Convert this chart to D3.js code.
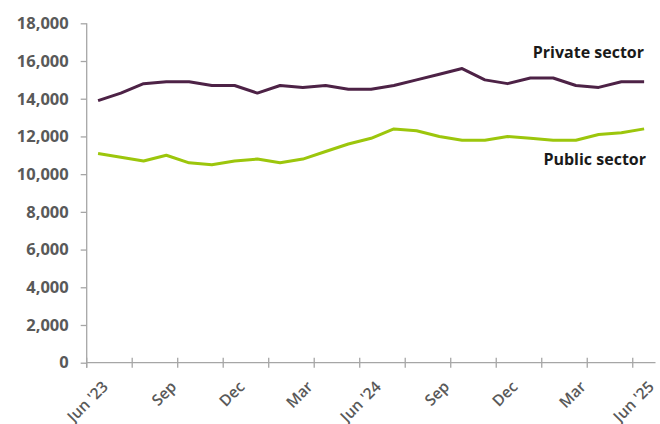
<!DOCTYPE html>
<html>
<head>
<meta charset="utf-8">
<script src="https://cdn.jsdelivr.net/npm/d3@7"></script>
<style>
  body { margin: 0; background: #fff; }
  svg text { font-family: "Open Sans", Lato, sans-serif; }
</style>
</head>
<body>
<svg id="chart" width="660" height="424"></svg>
<script>
// months from Jun '23 to Jun '25
const months = ["Jun '23", 'Jul', 'Aug', 'Sep', 'Oct', 'Nov', 'Dec', 'Jan', 'Feb', 'Mar', 'Apr', 'May',
  "Jun '24", 'Jul', 'Aug', 'Sep', 'Oct', 'Nov', 'Dec', 'Jan', 'Feb', 'Mar', 'Apr', 'May', "Jun '25"];
const labelMonths = ["Jun '23", 'Sep', 'Dec', 'Mar', "Jun '24", 'Sep', 'Dec', 'Mar', "Jun '25"];

const privateSector = [13900, 14300, 14800, 14900, 14900, 14700, 14700, 14300, 14700, 14600, 14700, 14500,
  14500, 14700, 15000, 15300, 15600, 15000, 14800, 15100, 15100, 14700, 14600, 14900, 14900];
const publicSector = [11100, 10900, 10700, 11000, 10600, 10500, 10700, 10800, 10600, 10800, 11200, 11600,
  11900, 12400, 12300, 12000, 11800, 11800, 12000, 11900, 11800, 11800, 12100, 12200, 12400];

const yTicks = [0, 2000, 4000, 6000, 8000, 10000, 12000, 14000, 16000, 18000];

const svg = d3.select('#chart');
const plotLeft = 86.7, plotRight = 655.5, plotTop = 23.3, plotBottom = 362.7;

// index based band scale so repeated month names stay distinct
const x = d3.scaleBand().domain(d3.range(months.length)).range([plotLeft, plotRight]);
const y = d3.scaleLinear().domain([0, 18000]).range([plotBottom, plotTop]);

const axisColor = '#a6a6a6';
const textColor = '#595959';

// y axis
const yAxis = svg.append('g')
  .attr('transform', `translate(${plotLeft},0)`)
  .call(d3.axisLeft(y).tickValues(yTicks).tickFormat(d3.format(',')).tickSize(6).tickPadding(12));
yAxis.select('.domain').attr('stroke', axisColor).attr('stroke-width', 1.3)
  .attr('d', `M0,${plotTop}V${plotBottom + 5}`);
yAxis.selectAll('.tick line').attr('stroke', axisColor).attr('stroke-width', 1.3);
yAxis.selectAll('.tick text')
  .attr('fill', textColor)
  .attr('font-size', '16.5px')
  .attr('font-weight', 700)
  .attr('font-family', '"Open Sans", sans-serif');

// x axis: tick marks every 2 months, crossing the axis line
const tickIdx = d3.range(0, months.length, 2);
const xAxis = svg.append('g');
xAxis.append('line')
  .attr('x1', plotLeft).attr('x2', plotRight)
  .attr('y1', plotBottom).attr('y2', plotBottom)
  .attr('stroke', axisColor).attr('stroke-width', 1.3);
xAxis.selectAll('line.tk')
  .data(tickIdx)
  .enter()
  .append('line')
  .attr('class', 'tk')
  .attr('x1', (d) => x(d)).attr('x2', (d) => x(d))
  .attr('y1', plotBottom - 5).attr('y2', plotBottom + 5)
  .attr('stroke', axisColor).attr('stroke-width', 1.3);

// labels every 3 months
const labelIdx = d3.range(0, months.length, 3);
xAxis.selectAll('text')
  .data(labelIdx)
  .enter()
  .append('text')
  .attr('transform', (d) => `translate(${x(d) + x.bandwidth() / 2 + 11},${plotBottom + 25}) rotate(-45)`)
  .attr('text-anchor', 'end')
  .attr('fill', textColor)
  .attr('font-size', '15.5px')
  .attr('font-weight', 600)
  .text((d, i) => labelMonths[i]);

// lines
const line = d3.line()
  .x((d, i) => x(i) + x.bandwidth() / 2)
  .y((d) => y(d));

svg.append('path')
  .datum(privateSector)
  .attr('fill', 'none')
  .attr('stroke', '#4d2246')
  .attr('stroke-width', 3)
  .attr('stroke-linejoin', 'round')
  .attr('d', line);

svg.append('path')
  .datum(publicSector)
  .attr('fill', 'none')
  .attr('stroke', '#9cc60c')
  .attr('stroke-width', 3)
  .attr('stroke-linejoin', 'round')
  .attr('d', line);

// series labels
svg.append('text')
  .attr('x', 644).attr('y', 57.5)
  .attr('text-anchor', 'end')
  .attr('font-size', '16px')
  .attr('font-weight', 700)
  .attr('fill', '#1a1a1a')
  .text('Private sector');

svg.append('text')
  .attr('x', 646).attr('y', 165)
  .attr('text-anchor', 'end')
  .attr('font-size', '16px')
  .attr('font-weight', 700)
  .attr('fill', '#1a1a1a')
  .text('Public sector');
</script>
</body>
</html>
